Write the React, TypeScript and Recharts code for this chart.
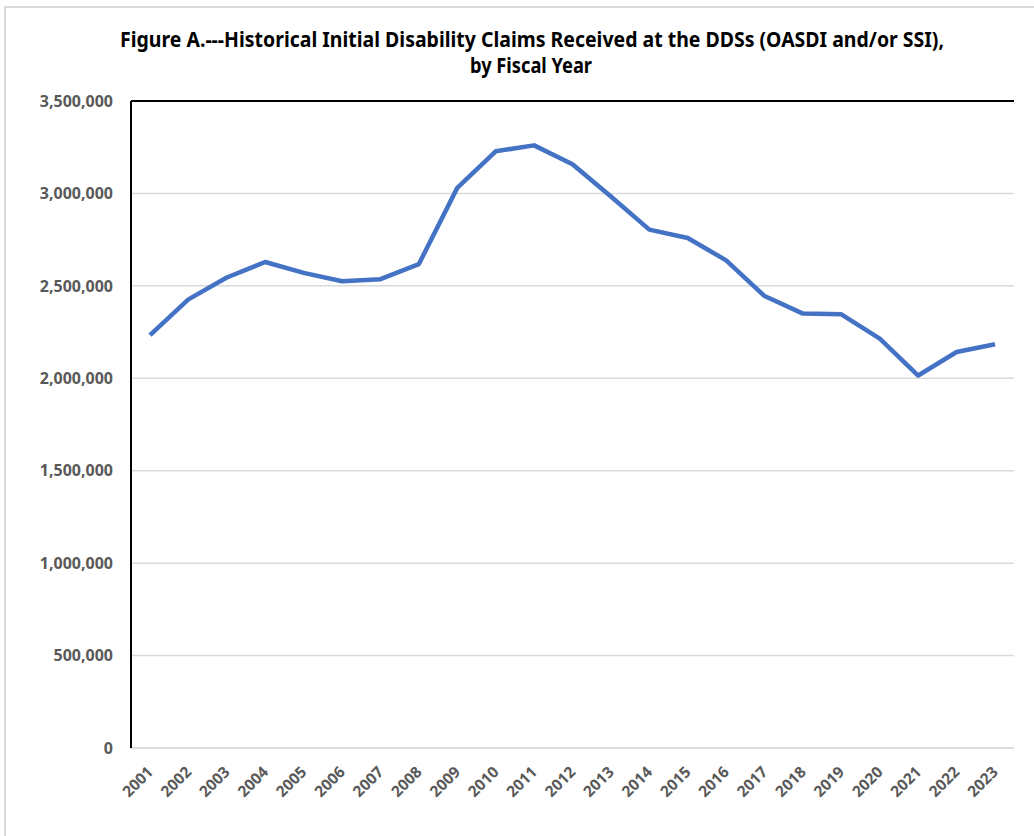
import { LineChart, Line, XAxis, YAxis, CartesianGrid, ReferenceLine } from 'recharts';

const FONT = '"Noto Sans", "Open Sans", sans-serif';
const LABEL_GRAY = '#595959';

// fiscal years and claims received
const years = [
  '2001', '2002', '2003', '2004', '2005', '2006', '2007', '2008', '2009', '2010', '2011', '2012',
  '2013', '2014', '2015', '2016', '2017', '2018', '2019', '2020', '2021', '2022', '2023',
];
const claims = [
  2233000, 2427000, 2545000, 2629000, 2570000, 2525000, 2536000, 2618000, 3030000, 3228000, 3260000, 3158000,
  2983000, 2804000, 2759000, 2638000, 2445000, 2350000, 2346000, 2215000, 2015000, 2142000, 2184000,
];
const yTicks = [0, 500000, 1000000, 1500000, 2000000, 2500000, 3000000, 3500000];
const titleLines = [
  'Figure A.---Historical Initial Disability Claims Received at the DDSs (OASDI and/or SSI),',
  'by Fiscal Year',
];

const data = years.map((year, i) => ({ year, claims: claims[i] }));

function YearTick({ x, y, payload }: any) {
  return (
    <text
      transform={`translate(${x + 4},${y + 25}) rotate(-45)`}
      textAnchor="end"
      fontFamily={FONT}
      fontSize={15.5}
      fontWeight={700}
      fill={LABEL_GRAY}
    >
      {payload.value}
    </text>
  );
}

export default function App() {
  return (
    <div style={{ position: 'absolute', left: 0, top: 0, width: 1034, height: 836, overflow: 'hidden', background: '#fff' }}>
      {/* light frame of the original picture */}
      <div style={{ position: 'absolute', left: 4, top: 6, width: 1040, height: 840, border: '2px solid #d9d9d9' }} />
      <svg width={1034} height={90} style={{ position: 'absolute', left: 0, top: 0 }}>
        <text x={532} y={47} textAnchor="middle" fontFamily={FONT} fontSize={20.5} fontWeight={700} fill="#000" textLength={824} lengthAdjust="spacingAndGlyphs">
          {titleLines[0]}
        </text>
        <text x={531} y={73} textAnchor="middle" fontFamily={FONT} fontSize={20.5} fontWeight={700} fill="#000" textLength={122} lengthAdjust="spacingAndGlyphs">
          {titleLines[1]}
        </text>
      </svg>
      <div style={{ position: 'absolute', left: 0, top: 0 }}>
        <LineChart width={1034} height={836} data={data} margin={{ top: 101, right: 20, bottom: 0, left: 0 }}>
          <CartesianGrid vertical={false} stroke="#d9d9d9" strokeWidth={1.5} />
          <XAxis
            dataKey="year"
            interval={0}
            padding={{ left: 19, right: 19 }}
            axisLine={{ stroke: '#d9d9d9', strokeWidth: 1.5 }}
            tickLine={false}
            tickSize={0}
            tickMargin={0}
            height={88}
            tick={<YearTick />}
          />
          <YAxis
            domain={[0, 3500000]}
            ticks={yTicks}
            width={131}
            tickFormatter={(v: number) => v.toLocaleString('en-US')}
            axisLine={{ stroke: '#000', strokeWidth: 2 }}
            tickLine={false}
            tickSize={0}
            tickMargin={18}
            tick={{ fontFamily: FONT, fontSize: 16, fontWeight: 700, fill: LABEL_GRAY }}
          />
          <YAxis yAxisId="r" orientation="right" domain={[0, 3500000]} width={0} tick={false} tickLine={false} axisLine={{ stroke: '#000', strokeWidth: 2 }} />
          <ReferenceLine y={3500000} stroke="#000" strokeWidth={2} />
          <Line
            type="linear"
            dataKey="claims"
            stroke="#4472c4"
            strokeWidth={4.5}
            strokeLinejoin="round"
            dot={false}
            activeDot={false}
            isAnimationActive={false}
          />
        </LineChart>
      </div>
    </div>
  );
}
